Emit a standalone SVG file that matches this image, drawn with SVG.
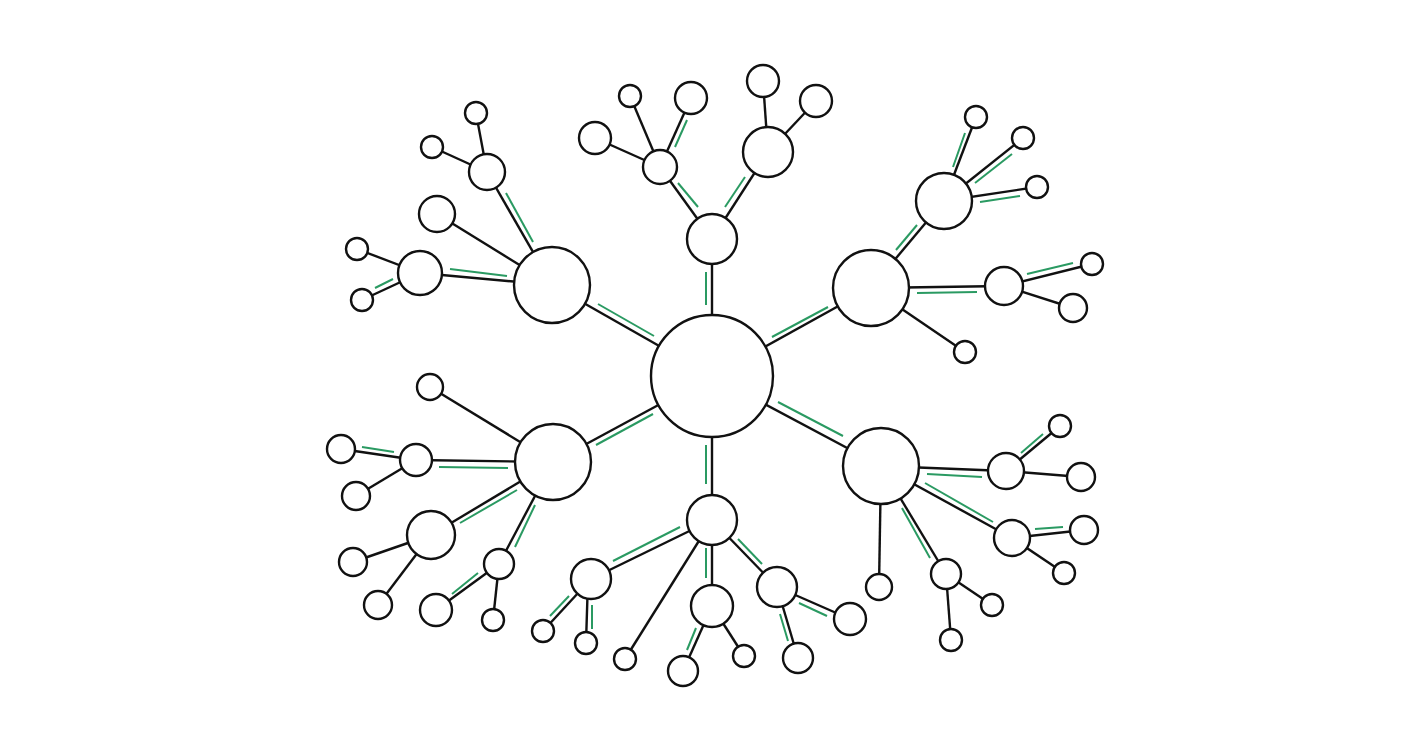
<svg xmlns="http://www.w3.org/2000/svg" width="1424" height="752" viewBox="0 0 1424 752">
<style>
.e{stroke:#111;stroke-width:2.4;fill:none}
.g{stroke:#2a9a62;stroke-width:2;fill:none}
circle{fill:#fff;stroke:#111;stroke-width:2.4}
</style>
<rect width="1424" height="752" fill="#fff"/>
<g id="connectors">
<line class="e" x1="712" y1="376" x2="712" y2="239"/>
<line class="e" x1="712" y1="376" x2="552" y2="285"/>
<line class="e" x1="712" y1="376" x2="871" y2="288"/>
<line class="e" x1="712" y1="376" x2="553" y2="462"/>
<line class="e" x1="712" y1="376" x2="881" y2="466"/>
<line class="e" x1="712" y1="376" x2="712" y2="520"/>
<line class="e" x1="712" y1="239" x2="660" y2="167"/>
<line class="e" x1="712" y1="239" x2="768" y2="152"/>
<line class="e" x1="660" y1="167" x2="595" y2="138"/>
<line class="e" x1="660" y1="167" x2="630" y2="96"/>
<line class="e" x1="660" y1="167" x2="691" y2="98"/>
<line class="e" x1="768" y1="152" x2="763" y2="81"/>
<line class="e" x1="768" y1="152" x2="816" y2="101"/>
<line class="e" x1="552" y1="285" x2="487" y2="172"/>
<line class="e" x1="552" y1="285" x2="437" y2="214"/>
<line class="e" x1="552" y1="285" x2="420" y2="273"/>
<line class="e" x1="487" y1="172" x2="476" y2="113"/>
<line class="e" x1="487" y1="172" x2="432" y2="147"/>
<line class="e" x1="420" y1="273" x2="357" y2="249"/>
<line class="e" x1="420" y1="273" x2="362" y2="300"/>
<line class="e" x1="871" y1="288" x2="944" y2="201"/>
<line class="e" x1="871" y1="288" x2="1004" y2="286"/>
<line class="e" x1="871" y1="288" x2="965" y2="352"/>
<line class="e" x1="944" y1="201" x2="976" y2="117"/>
<line class="e" x1="944" y1="201" x2="1023" y2="138"/>
<line class="e" x1="944" y1="201" x2="1037" y2="187"/>
<line class="e" x1="1004" y1="286" x2="1092" y2="264"/>
<line class="e" x1="1004" y1="286" x2="1073" y2="308"/>
<line class="e" x1="553" y1="462" x2="430" y2="387"/>
<line class="e" x1="553" y1="462" x2="416" y2="460"/>
<line class="e" x1="553" y1="462" x2="431" y2="535"/>
<line class="e" x1="553" y1="462" x2="499" y2="564"/>
<line class="e" x1="416" y1="460" x2="341" y2="449"/>
<line class="e" x1="416" y1="460" x2="356" y2="496"/>
<line class="e" x1="431" y1="535" x2="353" y2="562"/>
<line class="e" x1="431" y1="535" x2="378" y2="605"/>
<line class="e" x1="499" y1="564" x2="436" y2="610"/>
<line class="e" x1="499" y1="564" x2="493" y2="620"/>
<line class="e" x1="881" y1="466" x2="1006" y2="471"/>
<line class="e" x1="881" y1="466" x2="1012" y2="538"/>
<line class="e" x1="881" y1="466" x2="946" y2="574"/>
<line class="e" x1="881" y1="466" x2="879" y2="587"/>
<line class="e" x1="1006" y1="471" x2="1060" y2="426"/>
<line class="e" x1="1006" y1="471" x2="1081" y2="477"/>
<line class="e" x1="1012" y1="538" x2="1084" y2="530"/>
<line class="e" x1="1012" y1="538" x2="1064" y2="573"/>
<line class="e" x1="946" y1="574" x2="992" y2="605"/>
<line class="e" x1="946" y1="574" x2="951" y2="640"/>
<line class="e" x1="712" y1="520" x2="591" y2="579"/>
<line class="e" x1="712" y1="520" x2="625" y2="659"/>
<line class="e" x1="712" y1="520" x2="712" y2="606"/>
<line class="e" x1="712" y1="520" x2="777" y2="587"/>
<line class="e" x1="591" y1="579" x2="543" y2="631"/>
<line class="e" x1="588" y1="579" x2="586" y2="643"/>
<line class="e" x1="712" y1="606" x2="683" y2="671"/>
<line class="e" x1="712" y1="606" x2="744" y2="656"/>
<line class="e" x1="777" y1="587" x2="850" y2="619"/>
<line class="e" x1="777" y1="587" x2="798" y2="658"/>
<g id="highlights">
<line class="g" x1="706" y1="272" x2="706" y2="305"/>
<line class="g" x1="598" y1="304" x2="654" y2="336"/>
<line class="g" x1="772" y1="337" x2="828" y2="307"/>
<line class="g" x1="596" y1="445" x2="653" y2="414"/>
<line class="g" x1="778" y1="402" x2="843" y2="436"/>
<line class="g" x1="706" y1="445" x2="706" y2="484"/>
<line class="g" x1="678" y1="183" x2="698" y2="207"/>
<line class="g" x1="725" y1="207" x2="745" y2="177"/>
<line class="g" x1="675" y1="147" x2="687" y2="120"/>
<line class="g" x1="506" y1="193" x2="533" y2="242"/>
<line class="g" x1="450" y1="269" x2="507" y2="276"/>
<line class="g" x1="375" y1="288" x2="393" y2="279"/>
<line class="g" x1="896" y1="250" x2="917" y2="225"/>
<line class="g" x1="917" y1="293" x2="977" y2="292"/>
<line class="g" x1="953" y1="167" x2="965" y2="133"/>
<line class="g" x1="975" y1="183" x2="1012" y2="154"/>
<line class="g" x1="980" y1="202" x2="1020" y2="196"/>
<line class="g" x1="1027" y1="274" x2="1073" y2="263"/>
<line class="g" x1="439" y1="467" x2="508" y2="468"/>
<line class="g" x1="362" y1="447" x2="394" y2="452"/>
<line class="g" x1="460" y1="523" x2="517" y2="490"/>
<line class="g" x1="515" y1="547" x2="535" y2="505"/>
<line class="g" x1="452" y1="594" x2="478" y2="573"/>
<line class="g" x1="927" y1="474" x2="982" y2="477"/>
<line class="g" x1="925" y1="483" x2="993" y2="522"/>
<line class="g" x1="902" y1="508" x2="930" y2="558"/>
<line class="g" x1="1021" y1="453" x2="1043" y2="434"/>
<line class="g" x1="1035" y1="529" x2="1063" y2="527"/>
<line class="g" x1="613" y1="561" x2="680" y2="527"/>
<line class="g" x1="706" y1="548" x2="706" y2="578"/>
<line class="g" x1="738" y1="539" x2="762" y2="564"/>
<line class="g" x1="550" y1="616" x2="569" y2="596"/>
<line class="g" x1="592" y1="605" x2="592" y2="629"/>
<line class="g" x1="687" y1="650" x2="696" y2="628"/>
<line class="g" x1="799" y1="603" x2="827" y2="616"/>
<line class="g" x1="780" y1="614" x2="788" y2="641"/>
</g>
</g>
<g id="center"><circle cx="712" cy="376" r="61"/></g>
<g id="hub-top"><circle cx="712" cy="239" r="25"/></g>
<g id="hub-ul"><circle cx="552" cy="285" r="38"/></g>
<g id="hub-ur"><circle cx="871" cy="288" r="38"/></g>
<g id="hub-ll"><circle cx="553" cy="462" r="38"/></g>
<g id="hub-lr"><circle cx="881" cy="466" r="38"/></g>
<g id="hub-bottom"><circle cx="712" cy="520" r="25"/></g>
<g id="t1"><circle cx="660" cy="167" r="17"/></g>
<g id="t2"><circle cx="768" cy="152" r="25"/></g>
<g id="t1a"><circle cx="595" cy="138" r="16"/></g>
<g id="t1b"><circle cx="630" cy="96" r="11"/></g>
<g id="t1c"><circle cx="691" cy="98" r="16"/></g>
<g id="t2a"><circle cx="763" cy="81" r="16"/></g>
<g id="t2b"><circle cx="816" cy="101" r="16"/></g>
<g id="ul1"><circle cx="487" cy="172" r="18"/></g>
<g id="ul2"><circle cx="437" cy="214" r="18"/></g>
<g id="ul3"><circle cx="420" cy="273" r="22"/></g>
<g id="ul1a"><circle cx="476" cy="113" r="11"/></g>
<g id="ul1b"><circle cx="432" cy="147" r="11"/></g>
<g id="ul3a"><circle cx="357" cy="249" r="11"/></g>
<g id="ul3b"><circle cx="362" cy="300" r="11"/></g>
<g id="ur1"><circle cx="944" cy="201" r="28"/></g>
<g id="ur2"><circle cx="1004" cy="286" r="19"/></g>
<g id="ur3"><circle cx="965" cy="352" r="11"/></g>
<g id="ur1a"><circle cx="976" cy="117" r="11"/></g>
<g id="ur1b"><circle cx="1023" cy="138" r="11"/></g>
<g id="ur1c"><circle cx="1037" cy="187" r="11"/></g>
<g id="ur2a"><circle cx="1092" cy="264" r="11"/></g>
<g id="ur2b"><circle cx="1073" cy="308" r="14"/></g>
<g id="ll1"><circle cx="430" cy="387" r="13"/></g>
<g id="ll2"><circle cx="416" cy="460" r="16"/></g>
<g id="ll3"><circle cx="431" cy="535" r="24"/></g>
<g id="ll4"><circle cx="499" cy="564" r="15"/></g>
<g id="ll2a"><circle cx="341" cy="449" r="14"/></g>
<g id="ll2b"><circle cx="356" cy="496" r="14"/></g>
<g id="ll3a"><circle cx="353" cy="562" r="14"/></g>
<g id="ll3b"><circle cx="378" cy="605" r="14"/></g>
<g id="ll4a"><circle cx="436" cy="610" r="16"/></g>
<g id="ll4b"><circle cx="493" cy="620" r="11"/></g>
<g id="lr1"><circle cx="1006" cy="471" r="18"/></g>
<g id="lr2"><circle cx="1012" cy="538" r="18"/></g>
<g id="lr3"><circle cx="946" cy="574" r="15"/></g>
<g id="lr4"><circle cx="879" cy="587" r="13"/></g>
<g id="lr1a"><circle cx="1060" cy="426" r="11"/></g>
<g id="lr1b"><circle cx="1081" cy="477" r="14"/></g>
<g id="lr2a"><circle cx="1084" cy="530" r="14"/></g>
<g id="lr2b"><circle cx="1064" cy="573" r="11"/></g>
<g id="lr3a"><circle cx="992" cy="605" r="11"/></g>
<g id="lr3b"><circle cx="951" cy="640" r="11"/></g>
<g id="b1"><circle cx="591" cy="579" r="20"/></g>
<g id="b2"><circle cx="625" cy="659" r="11"/></g>
<g id="b3"><circle cx="712" cy="606" r="21"/></g>
<g id="b4"><circle cx="777" cy="587" r="20"/></g>
<g id="b1a"><circle cx="543" cy="631" r="11"/></g>
<g id="b1b"><circle cx="586" cy="643" r="11"/></g>
<g id="b3a"><circle cx="683" cy="671" r="15"/></g>
<g id="b3b"><circle cx="744" cy="656" r="11"/></g>
<g id="b4a"><circle cx="850" cy="619" r="16"/></g>
<g id="b4b"><circle cx="798" cy="658" r="15"/></g>
</svg>
